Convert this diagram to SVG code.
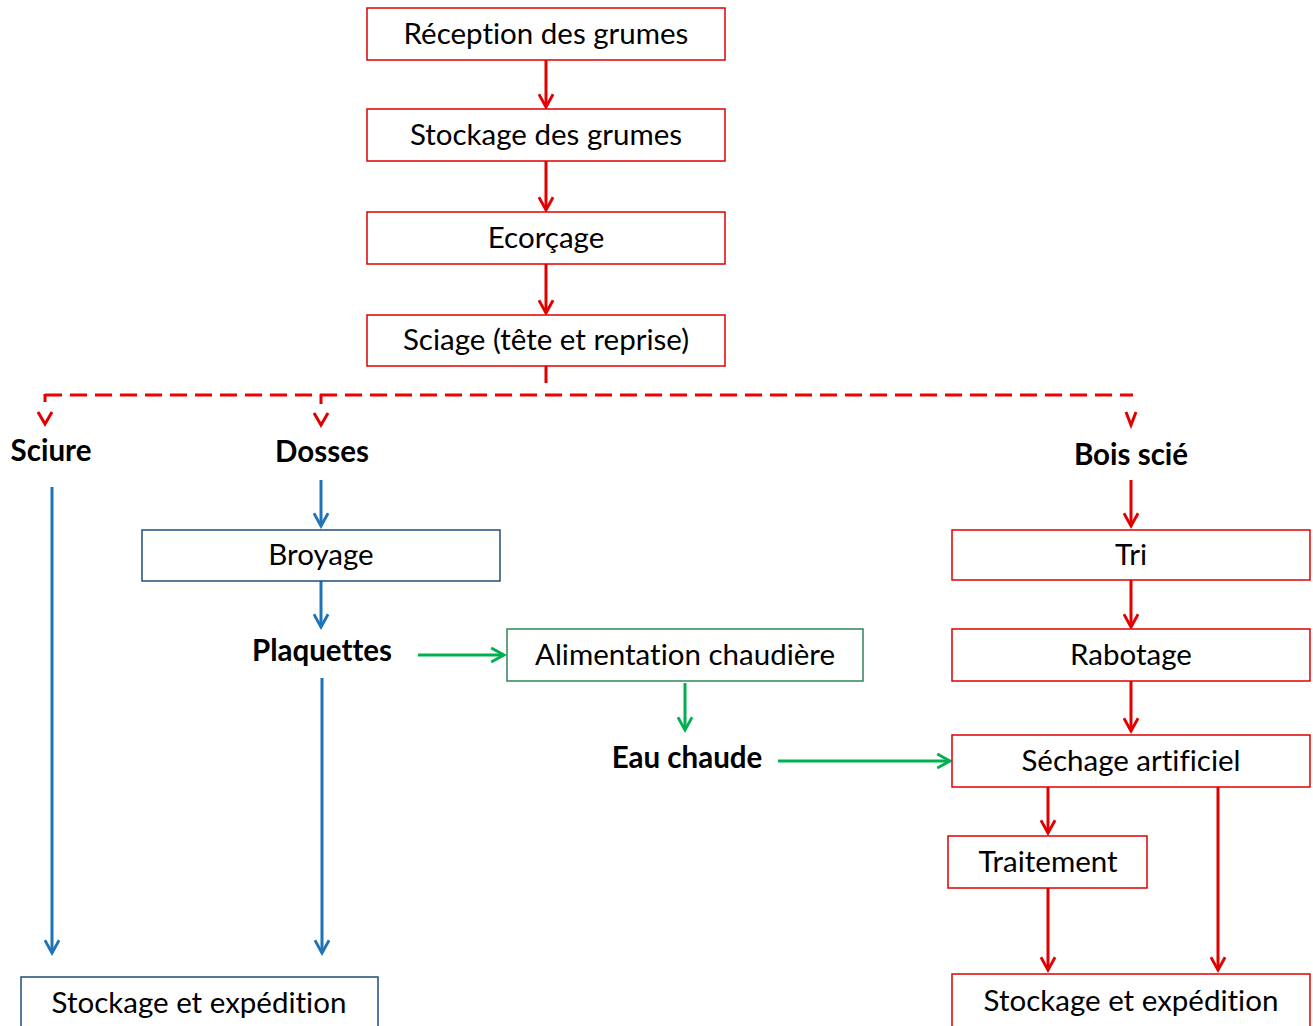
<svg xmlns="http://www.w3.org/2000/svg" width="1313" height="1026" viewBox="0 0 1313 1026">
<style>
text{font-family:Lato,"Open Sans","Liberation Sans",sans-serif;font-size:29.5px;fill:#000;text-anchor:middle;font-variant-ligatures:none}
.b{font-weight:bold}
.r{fill:#fff;stroke:#e00000;stroke-width:1.5}
.bl{fill:#fff;stroke:#1f4e79;stroke-width:1.5}
.g{fill:#fff;stroke:#31855a;stroke-width:1.5}
.ar{stroke:#e00000;stroke-width:3;fill:none}
.ab{stroke:#1f73b7;stroke-width:3;fill:none}
.ag{stroke:#00b050;stroke-width:3;fill:none}
.d{stroke:#f00000;stroke-width:3;fill:none;stroke-dasharray:17 8}
</style>
<defs>
<marker id="mr" viewBox="0 0 12 12" refX="10" refY="6" markerWidth="17" markerHeight="17" markerUnits="userSpaceOnUse" orient="auto"><path d="M1,1 L10,6 L1,11" fill="none" stroke="#e00000" stroke-width="2"/></marker>
<marker id="mb" viewBox="0 0 12 12" refX="10" refY="6" markerWidth="17" markerHeight="17" markerUnits="userSpaceOnUse" orient="auto"><path d="M1,1 L10,6 L1,11" fill="none" stroke="#1f73b7" stroke-width="2"/></marker>
<marker id="mg" viewBox="0 0 12 12" refX="10" refY="6" markerWidth="17" markerHeight="17" markerUnits="userSpaceOnUse" orient="auto"><path d="M1,1 L10,6 L1,11" fill="none" stroke="#00b050" stroke-width="2"/></marker>
</defs>
<g id="connectors">
<line class="ar" x1="546" y1="60" x2="546" y2="107" marker-end="url(#mr)"/>
<line class="ar" x1="546" y1="161" x2="546" y2="210" marker-end="url(#mr)"/>
<line class="ar" x1="546" y1="264" x2="546" y2="313" marker-end="url(#mr)"/>
<line class="ar" x1="546" y1="366" x2="546" y2="383"/>
<line class="d" x1="45" y1="395" x2="1133" y2="395"/>
<line class="ar" x1="45" y1="394" x2="45" y2="402"/>
<line class="ar" x1="321" y1="394" x2="321" y2="404"/>
<path class="ar" d="M38,412 L45,424 L52,412"/>
<path class="ar" d="M314,413 L321,425 L328,413"/>
<path class="ar" d="M1126,412 L1131,425 L1136,412"/>
<line class="ab" x1="52" y1="487" x2="52" y2="953" marker-end="url(#mb)"/>
<line class="ab" x1="321" y1="480" x2="321" y2="526" marker-end="url(#mb)"/>
<line class="ab" x1="321" y1="581" x2="321" y2="627" marker-end="url(#mb)"/>
<line class="ab" x1="322" y1="678" x2="322" y2="953" marker-end="url(#mb)"/>
<line class="ag" x1="418" y1="655" x2="504" y2="655" marker-end="url(#mg)"/>
<line class="ag" x1="685" y1="683" x2="685" y2="730" marker-end="url(#mg)"/>
<line class="ag" x1="778" y1="761" x2="950" y2="761" marker-end="url(#mg)"/>
<line class="ar" x1="1131" y1="480" x2="1131" y2="526" marker-end="url(#mr)"/>
<line class="ar" x1="1131" y1="580" x2="1131" y2="627" marker-end="url(#mr)"/>
<line class="ar" x1="1131" y1="681" x2="1131" y2="731" marker-end="url(#mr)"/>
<line class="ar" x1="1048" y1="787" x2="1048" y2="833" marker-end="url(#mr)"/>
<line class="ar" x1="1048" y1="888" x2="1048" y2="970" marker-end="url(#mr)"/>
<line class="ar" x1="1218" y1="787" x2="1218" y2="970" marker-end="url(#mr)"/>
</g>
<g id="n-reception"><rect class="r" x="367" y="8" width="358" height="52"/><text x="546" y="44">Réception des grumes</text></g>
<g id="n-stockage-grumes"><rect class="r" x="367" y="109" width="358" height="52"/><text x="546" y="145">Stockage des grumes</text></g>
<g id="n-ecorcage"><rect class="r" x="367" y="212" width="358" height="52"/><text x="546" y="248">Ecorçage</text></g>
<g id="n-sciage"><rect class="r" x="367" y="315" width="358" height="51"/><text x="546" y="350">Sciage (tête et reprise)</text></g>
<g id="n-sciure"><text class="b" x="51" y="461">Sciure</text></g>
<g id="n-dosses"><text class="b" x="322" y="462">Dosses</text></g>
<g id="n-bois-scie"><text class="b" x="1131" y="465">Bois scié</text></g>
<g id="n-broyage"><rect class="bl" x="142" y="530" width="358" height="51"/><text x="321" y="565">Broyage</text></g>
<g id="n-plaquettes"><text class="b" x="322" y="661">Plaquettes</text></g>
<g id="n-alimentation"><rect class="g" x="507" y="629" width="356" height="52"/><text x="685" y="665">Alimentation chaudière</text></g>
<g id="n-eau-chaude"><text class="b" x="687" y="768">Eau chaude</text></g>
<g id="n-tri"><rect class="r" x="952" y="530" width="358" height="50"/><text x="1131" y="565">Tri</text></g>
<g id="n-rabotage"><rect class="r" x="952" y="629" width="358" height="52"/><text x="1131" y="665">Rabotage</text></g>
<g id="n-sechage"><rect class="r" x="952" y="735" width="358" height="52"/><text x="1131" y="771">Séchage artificiel</text></g>
<g id="n-traitement"><rect class="r" x="948" y="836" width="199" height="52"/><text x="1048" y="872">Traitement</text></g>
<g id="n-stockage-left"><rect class="bl" x="21" y="977" width="357" height="60"/><text x="199" y="1013">Stockage et expédition</text></g>
<g id="n-stockage-right"><rect class="r" x="952" y="974" width="358" height="60"/><text x="1131" y="1011">Stockage et expédition</text></g>
</svg>
